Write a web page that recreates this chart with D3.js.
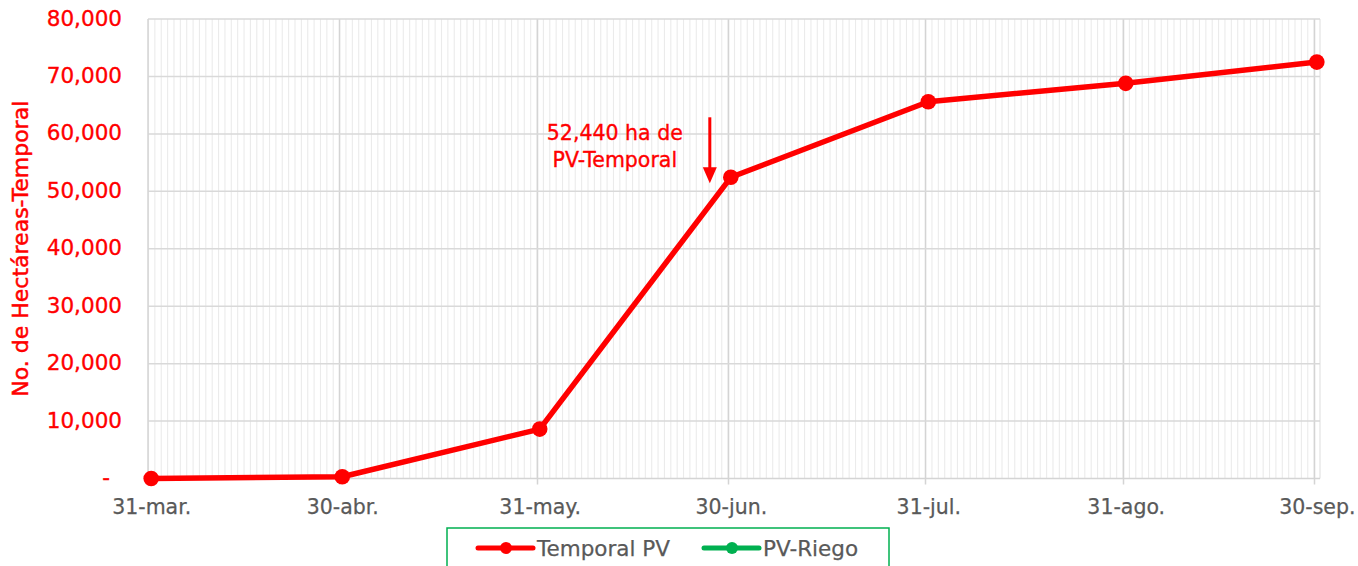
<!DOCTYPE html>
<html>
<head>
<meta charset="utf-8">
<script src="https://cdn.jsdelivr.net/npm/d3@7"></script>
<style>
  html, body { margin: 0; padding: 0; background: #fff; }
  svg { display: block; font-family: "DejaVu Sans", sans-serif; }
</style>
</head>
<body>
<svg id="chart" width="1358" height="566"></svg>
<script>
// ---- data ----
const dates = ["2024-03-31", "2024-04-30", "2024-05-31", "2024-06-30", "2024-07-31", "2024-08-31", "2024-09-30"];
const tickLabels = ["31-mar.", "30-abr.", "31-may.", "30-jun.", "31-jul.", "31-ago.", "30-sep."];
const temporalPV = [0, 300, 8600, 52440, 65600, 68800, 72500];
const seriesNames = ["Temporal PV", "PV-Riego"];
const seriesColors = ["#FF0000", "#00B050"];
const yTicks = [0, 10000, 20000, 30000, 40000, 50000, 60000, 70000, 80000];
const yTitle = "No. de Hectáreas-Temporal";
const annotationLines = ["52,440 ha de", "PV-Temporal"];
const annotatedIndex = 3;

// ---- layout ----
const svg = d3.select("#chart");
const parse = d3.utcParse("%Y-%m-%d");
const dd = dates.map(parse);
const HALF = 12 * 3600 * 1000;
const pLeft = 148, pRight = 1320, pTop = 19, pBottom = 478.5;

const x = d3.scaleUtc()
  .domain([new Date(+dd[0] - HALF), new Date(+dd[dd.length - 1] + HALF)])
  .range([pLeft, pRight]);
const y = d3.scaleLinear().domain([0, 80000]).range([pBottom, pTop]);

const grid = svg.append("g");
// minor daily grid
const days = d3.utcDay.range(dd[0], d3.utcDay.offset(dd[dd.length - 1], 1));
grid.selectAll("line.minor").data(days).join("line")
  .attr("x1", d => x(new Date(+d - HALF)) + 0.5)
  .attr("x2", d => x(new Date(+d - HALF)) + 0.5)
  .attr("y1", pTop).attr("y2", pBottom)
  .attr("stroke", "#ebebeb").attr("stroke-width", 1.1);
// right edge
grid.append("line")
  .attr("x1", pRight).attr("x2", pRight).attr("y1", pTop).attr("y2", pBottom)
  .attr("stroke", "#e3e3e3").attr("stroke-width", 1.2);
// major grid
grid.selectAll("line.major").data(dd.slice(1)).join("line")
  .attr("x1", d => Math.round(x(new Date(+d - HALF))) + 0.5)
  .attr("x2", d => Math.round(x(new Date(+d - HALF))) + 0.5)
  .attr("y1", pTop).attr("y2", pBottom + 6)
  .attr("stroke", "#d4d4d4").attr("stroke-width", 1.5);
// horizontal grid
grid.selectAll("line.h").data(yTicks.slice(1)).join("line")
  .attr("x1", pLeft).attr("x2", pRight)
  .attr("y1", d => y(d)).attr("y2", d => y(d))
  .attr("stroke", "#d9d9d9").attr("stroke-width", 1.5);
// axes lines
grid.append("line").attr("x1", pLeft).attr("x2", pLeft).attr("y1", pTop).attr("y2", pBottom + 6)
  .attr("stroke", "#d4d4d4").attr("stroke-width", 1.5);
grid.append("line").attr("x1", pLeft).attr("x2", pRight).attr("y1", pBottom).attr("y2", pBottom)
  .attr("stroke", "#d4d4d4").attr("stroke-width", 1.5);

// y axis labels
const yAxis = svg.append("g").attr("transform", `translate(${pLeft},0)`)
  .call(d3.axisLeft(y).tickValues(yTicks).tickSize(0).tickPadding(26)
    .tickFormat(d => d === 0 ? "-" : d3.format(",")(d)));
yAxis.select(".domain").remove();
yAxis.selectAll("text")
  .attr("fill", "#FF0000").attr("font-size", "21.5px")
  .attr("stroke", "#FF0000").attr("stroke-width", 0.35)
  .attr("font-family", "DejaVu Sans, sans-serif")
  .attr("dy", "0.28em")
  .attr("x", d => d === 0 ? -38 : -26);

// x axis labels
const xAxis = svg.append("g").attr("transform", `translate(0,${pBottom})`)
  .call(d3.axisBottom(x).tickValues(dd).tickSize(0).tickPadding(21)
    .tickFormat((d, i) => tickLabels[i]));
xAxis.select(".domain").remove();
xAxis.selectAll("text")
  .attr("fill", "#595959").attr("font-size", "20.5px")
  .attr("stroke", "#595959").attr("stroke-width", 0.25)
  .attr("font-family", "DejaVu Sans, sans-serif");

// y title
svg.append("text")
  .attr("transform", `translate(28,${(pTop + pBottom) / 2}) rotate(-90)`)
  .attr("text-anchor", "middle")
  .attr("fill", "#FF0000").attr("stroke", "#FF0000").attr("stroke-width", 0.5)
  .attr("font-size", "22px")
  .text(yTitle);

// series line
const pts = dd.map((d, i) => [x(d), y(temporalPV[i])]);
svg.append("path")
  .attr("d", d3.line()(pts))
  .attr("fill", "none").attr("stroke", seriesColors[0])
  .attr("stroke-width", 5.5).attr("stroke-linejoin", "round");
svg.selectAll("circle.pt").data(pts).join("circle")
  .attr("cx", d => d[0]).attr("cy", d => d[1]).attr("r", 7.8)
  .attr("fill", seriesColors[0]);

// annotation
const ax = x(dd[annotatedIndex]), ay = y(temporalPV[annotatedIndex]);
const ann = svg.append("g").attr("fill", "#FF0000");
ann.selectAll("text").data(annotationLines).join("text")
  .attr("x", ax - 116).attr("y", (d, i) => ay - 37 + i * 27)
  .attr("text-anchor", "middle").attr("font-size", "20.5px")
  .attr("stroke", "#FF0000").attr("stroke-width", 0.35)
  .text(d => d);
svg.append("line")
  .attr("x1", ax - 21).attr("x2", ax - 21).attr("y1", ay - 60).attr("y2", ay - 8)
  .attr("stroke", "#FF0000").attr("stroke-width", 3);
svg.append("path")
  .attr("d", `M${ax - 28},${ay - 10} L${ax - 14},${ay - 10} L${ax - 21},${ay + 6} Z`)
  .attr("fill", "#FF0000");

// legend
const lg = svg.append("g");
lg.append("rect").attr("x", 447).attr("y", 528).attr("width", 442).attr("height", 60)
  .attr("fill", "#fff").attr("stroke", "#00B050").attr("stroke-width", 1.5);
const legX = [478, 704];
seriesNames.forEach((name, i) => {
  const g = lg.append("g").attr("transform", `translate(${legX[i]},548)`);
  g.append("line").attr("x1", 0).attr("x2", 55).attr("y1", 0).attr("y2", 0)
    .attr("stroke", seriesColors[i]).attr("stroke-width", 5).attr("stroke-linecap", "round");
  g.append("circle").attr("cx", 28).attr("cy", 0).attr("r", 6).attr("fill", seriesColors[i]);
  g.append("text").attr("x", 59).attr("y", 0).attr("dy", "0.36em")
    .attr("fill", "#595959").attr("stroke", "#595959").attr("stroke-width", 0.25)
    .attr("font-size", "21.5px").text(name);
});
</script>
</body>
</html>
